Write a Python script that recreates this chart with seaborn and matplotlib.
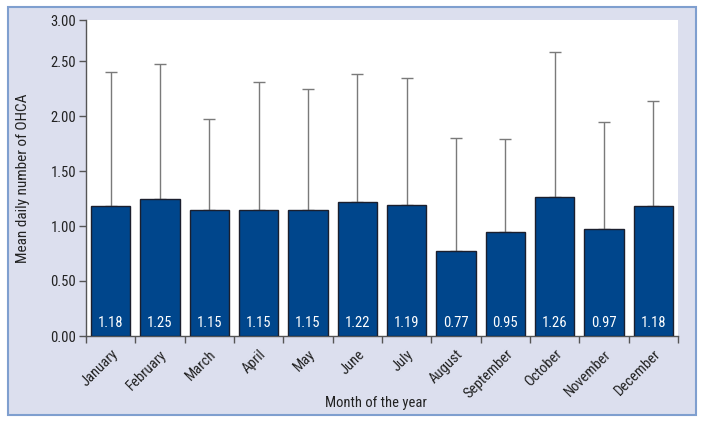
import matplotlib
matplotlib.use("Agg")
import matplotlib.pyplot as plt
import matplotlib.patches as mpatches
import seaborn as sns
import numpy as np
import pandas as pd

months = ["January", "February", "March", "April", "May", "June", "July",
          "August", "September", "October", "November", "December"]
means = [1.18, 1.25, 1.15, 1.15, 1.15, 1.22, 1.19, 0.77, 0.95, 1.26, 0.97, 1.18]
upper = [2.40, 2.47, 1.97, 2.31, 2.25, 2.38, 2.35, 1.80, 1.79, 2.58, 1.95, 2.14]
ytick_vals = [0.0, 0.5, 1.0, 1.5, 2.0, 2.5]
ytick_labels = ["0.00", "0.50", "1.00", "1.50", "2.00", "2.50"]

sns.set_theme(style="white")
plt.rcParams['font.family'] = ['Roboto Condensed', 'Liberation Sans', 'DejaVu Sans']

df = pd.DataFrame({"month": months, "mean": means, "upper": upper})

fig = plt.figure(figsize=(7.04, 4.24), dpi=100)
fig.patch.set_facecolor("white")
# outer framed panel
panel = mpatches.Rectangle((8/704, 1-415/424), 688/704, 408/424,
                           transform=fig.transFigure, facecolor="#dcdfee",
                           edgecolor="#7f9fcf", linewidth=1.5, zorder=-5)
fig.patches.append(panel)

ax = fig.add_axes([86/704, 1-336/424, 592/704, 316/424])
ax.set_facecolor("white")

sns.barplot(data=df, x="month", y="mean", order=months, color="#00468c",
            saturation=1, width=0.8, edgecolor="#1b1f2e", linewidth=1.0,
            errorbar=None, ax=ax, zorder=3)

x = np.arange(len(months))
m = np.array(means)
u = np.array(upper)
ax.errorbar(x, m, yerr=[np.zeros_like(m), u - m], fmt="none",
            ecolor="#7a7a7a", elinewidth=1.0, capsize=4, capthick=1.0, zorder=2)

for xi, v in zip(x, means):
    ax.text(xi, 0.12, f"{v:.2f}", ha="center", va="center", color="white",
            fontsize=10.5, zorder=5)

top = 316/110
ax.set_ylim(0, top)
ax.set_xlim(-0.5, len(months) - 0.5)
ax.set_yticks(ytick_vals + [top])
ax.set_yticklabels(ytick_labels + ["3.00"], fontsize=10.5, color="#222222")

ax.set_xticks(x)
ax.set_xticklabels(months, rotation=45, ha="right", rotation_mode="anchor",
                   fontsize=10.5, color="#222222")
ax.set_xticks(np.arange(-0.5, len(months), 1.0), minor=True)
ax.tick_params(axis="x", which="major", length=0, pad=8)
ax.tick_params(axis="x", which="minor", length=5, width=1, color="#555555", bottom=True)
ax.tick_params(axis="y", which="major", length=5, width=1, color="#555555", left=True, pad=2)

for s in ["top", "right"]:
    ax.spines[s].set_visible(False)
for s in ["left", "bottom"]:
    ax.spines[s].set_color("#555555")
    ax.spines[s].set_linewidth(1.0)

ax.set_xlabel("Month of the year", fontsize=10.5, color="#222222")
ax.set_ylabel("Mean daily number of OHCA", fontsize=11, color="#222222")
ax.xaxis.set_label_coords(0.49, -0.19)
ax.yaxis.set_label_coords(-0.095, 0.5)

fig.savefig("out.png", dpi=100, facecolor=fig.get_facecolor())
